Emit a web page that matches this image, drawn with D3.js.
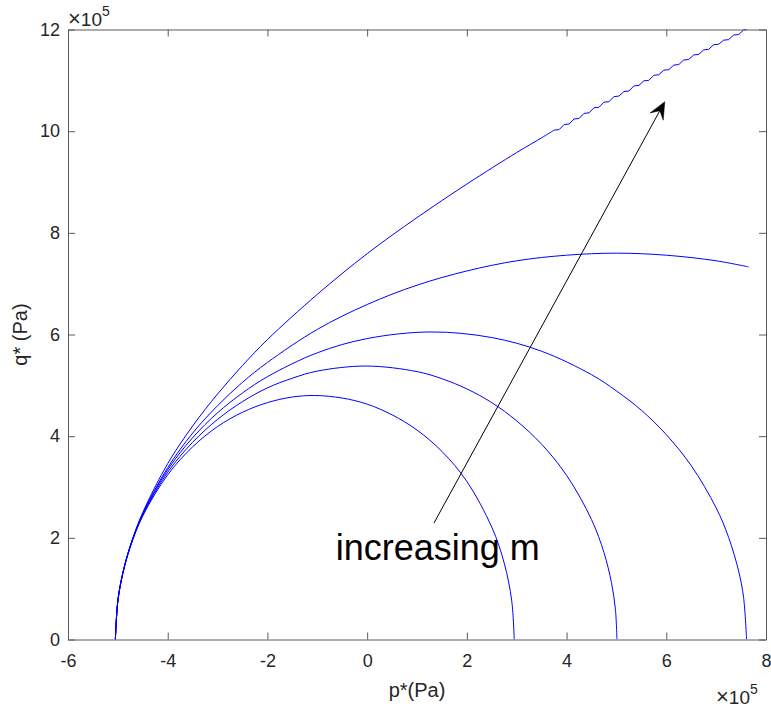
<!DOCTYPE html>
<html>
<head>
<meta charset="utf-8">
<script src="https://cdn.jsdelivr.net/npm/d3@7"></script>
<style>
  body { margin: 0; background: #fff; }
  svg { font-family: "Liberation Sans", Arial, Helvetica, sans-serif; }
</style>
</head>
<body>
<svg width="771" height="710"></svg>
<script>
// values in units of 1e5 Pa
var xTicks = [-6, -4, -2, 0, 2, 4, 6, 8];
var yTicks = [0, 2, 4, 6, 8, 10, 12];

var curve1 = [[-5.05, 0], [-5.0, 0.76], [-4.9, 1.3], [-4.75, 1.82], [-4.5, 2.43], [-4, 3.24],
  [-3.5, 3.79], [-3, 4.19], [-2.5, 4.47], [-2, 4.66], [-1.5, 4.77], [-1.05, 4.8], [-0.5, 4.75],
  [0, 4.63], [0.5, 4.42], [1, 4.12], [1.5, 3.7], [2, 3.11], [2.5, 2.21], [2.75, 1.5], [2.9, 0.76], [2.95, 0]];

var curve2 = [[-5.05, 0], [-5.0, 0.76], [-4.9, 1.3], [-4.75, 1.83], [-4.5, 2.45], [-4, 3.29],
  [-3.5, 3.88], [-3, 4.33], [-2.5, 4.68], [-2, 4.95], [-1.5, 5.14], [-1, 5.28], [-0.02, 5.38],
  [1, 5.27], [1.5, 5.13], [2, 4.93], [2.5, 4.66], [3, 4.3], [3.5, 3.84], [4, 3.23], [4.5, 2.36],
  [4.75, 1.71], [4.9, 1.12], [4.98, 0.59], [5.01, 0]];

var curve3 = [[-5.05, 0], [-5.0, 0.76], [-4.9, 1.31], [-4.75, 1.84], [-4.5, 2.47], [-4, 3.34],
  [-3.5, 3.97], [-3, 4.46], [-2.5, 4.85], [-2, 5.17], [-1, 5.64], [0, 5.92], [1.28, 6.05],
  [2.5, 5.94], [3.5, 5.67], [4.5, 5.21], [5, 4.89], [5.5, 4.51], [6, 4.03], [6.5, 3.42],
  [7, 2.59], [7.25, 2.01], [7.45, 1.35], [7.55, 0.83], [7.61, 0]];

var curve4 = [[-5.05, 0], [-5.0, 0.76], [-4.9, 1.31], [-4.75, 1.84], [-4.5, 2.48], [-4, 3.38],
  [-3.5, 4.06], [-3, 4.6], [-2.5, 5.06], [-2, 5.45], [-1, 6.1], [0, 6.59], [1, 6.97], [2, 7.25],
  [3, 7.45], [4, 7.56], [5, 7.6], [6, 7.56], [7, 7.45], [7.65, 7.33]];

var curve5 = [[-5.05, 0], [-5.0, 0.76], [-4.9, 1.31], [-4.75, 1.85], [-4.5, 2.5], [-4, 3.46],
  [-3.5, 4.2], [-3, 4.83], [-2.5, 5.39], [-2, 5.9], [-1, 6.79], [0, 7.59], [1, 8.3], [2, 8.96],
  [3, 9.58], [3.5, 9.87], [3.75, 10.02]];

// the jagged end of the top curve
var curve5Steps = [[3.75, 10.02], [3.85, 10.03], [3.95, 10.13], [4.05, 10.14], [4.15, 10.24],
  [4.25, 10.25], [4.35, 10.35], [4.45, 10.36], [4.55, 10.46], [4.65, 10.47], [4.75, 10.57],
  [4.85, 10.58], [4.95, 10.68], [5.05, 10.69], [5.15, 10.78], [5.25, 10.79], [5.35, 10.89],
  [5.45, 10.9], [5.55, 10.99], [5.65, 11.0], [5.75, 11.1], [5.85, 11.11], [5.95, 11.2],
  [6.05, 11.21], [6.15, 11.3], [6.25, 11.31], [6.35, 11.4], [6.45, 11.41], [6.55, 11.5],
  [6.65, 11.51], [6.75, 11.6], [6.85, 11.61], [6.95, 11.7], [7.05, 11.71], [7.15, 11.79],
  [7.25, 11.8], [7.35, 11.89], [7.45, 11.9], [7.55, 11.99], [7.61, 12.0]];

var arrowFrom = [1.34, 2.29];
var arrowTo = [5.97, 10.58];
var noteText = "increasing m";
var notePos = [-0.63, 1.57];

var svg = d3.select("svg");
var plotLeft = 68, plotRight = 766, plotTop = 29.5, plotBottom = 639.5;

var x = d3.scaleLinear().domain([-6, 8]).range([plotLeft, plotRight]);
var y = d3.scaleLinear().domain([0, 12]).range([plotBottom, plotTop]);

var axisColor = "#5a5a5a";
var textColor = "#262626";

svg.append("defs").append("clipPath").attr("id", "plot")
  .append("rect")
  .attr("x", plotLeft).attr("y", plotTop - 1)
  .attr("width", plotRight - plotLeft).attr("height", plotBottom - plotTop + 1);

// curves
var smooth = d3.line()
  .x(function (d) { return x(d[0]); })
  .y(function (d) { return y(d[1]); })
  .curve(d3.curveCatmullRom.alpha(0.5));

var straight = d3.line()
  .x(function (d) { return x(d[0]); })
  .y(function (d) { return y(d[1]); });

var lines = svg.append("g").attr("clip-path", "url(#plot)");

lines.selectAll("path.curve")
  .data([curve1, curve2, curve3, curve4, curve5])
  .enter()
  .append("path")
  .attr("class", "curve")
  .attr("d", smooth)
  .attr("fill", "none")
  .attr("stroke", "#0000ff")
  .attr("stroke-width", 1);

lines.append("path")
  .attr("d", straight(curve5Steps))
  .attr("fill", "none")
  .attr("stroke", "#0000ff")
  .attr("stroke-width", 1);

// axes, ticks inside on all four sides
function style(g) {
  g.attr("font-family", null);
  g.selectAll(".domain").attr("stroke", axisColor);
  g.selectAll(".tick line").attr("stroke", axisColor);
  g.selectAll(".tick text")
    .attr("fill", textColor)
    .style("font-size", "18px");
}

function plain(d) { return String(d); }

svg.append("g")
  .attr("transform", "translate(0," + plotBottom + ")")
  .call(d3.axisBottom(x).tickValues(xTicks).tickFormat(plain).tickSize(-7).tickSizeOuter(0).tickPadding(15))
  .call(style);

svg.append("g")
  .attr("transform", "translate(0," + plotTop + ")")
  .call(d3.axisTop(x).tickValues(xTicks).tickSize(-7).tickSizeOuter(0).tickFormat(""))
  .call(style);

svg.append("g")
  .attr("transform", "translate(" + plotLeft + ",0)")
  .call(d3.axisLeft(y).tickValues(yTicks).tickFormat(plain).tickSize(-7).tickSizeOuter(0).tickPadding(8))
  .call(style);

svg.append("g")
  .attr("transform", "translate(" + plotRight + ",0)")
  .call(d3.axisRight(y).tickValues(yTicks).tickSize(-7).tickSizeOuter(0).tickFormat(""))
  .call(style);

// axis labels
svg.append("text")
  .attr("x", (plotLeft + plotRight) / 2)
  .attr("y", 697)
  .attr("text-anchor", "middle")
  .attr("fill", textColor)
  .style("font-size", "20px")
  .text("p*(Pa)");

svg.append("text")
  .attr("transform", "translate(27," + (plotTop + plotBottom) / 2 + ") rotate(-90)")
  .attr("text-anchor", "middle")
  .attr("fill", textColor)
  .style("font-size", "20px")
  .text("q* (Pa)");

// exponent markers
function exponent(px, py) {
  var t = svg.append("text")
    .attr("x", px)
    .attr("y", py)
    .attr("fill", textColor)
    .style("font-size", "19px");
  t.append("tspan").style("font-size", "22px").style("font-weight", 300).text("\u00d7");
  t.append("tspan").text("10");
  t.append("tspan").attr("dy", -10).style("font-size", "14px").text("5");
}
exponent(68, 26);
exponent(716, 704);

// annotation arrow
var ax0 = x(arrowFrom[0]), ay0 = y(arrowFrom[1]);
var ax1 = x(arrowTo[0]), ay1 = y(arrowTo[1]);
var ang = Math.atan2(ay1 - ay0, ax1 - ax0);
var headLen = 17, headW = 7.5;

svg.append("line")
  .attr("x1", ax0).attr("y1", ay0)
  .attr("x2", ax1 - Math.cos(ang) * 8).attr("y2", ay1 - Math.sin(ang) * 8)
  .attr("stroke", "#000")
  .attr("stroke-width", 1);

function pt(along, side) {
  return [ax1 + Math.cos(ang) * along - Math.sin(ang) * side,
          ay1 + Math.sin(ang) * along + Math.cos(ang) * side];
}
svg.append("path")
  .attr("d", d3.line()([pt(0, 0), pt(-headLen, headW), pt(-headLen * 0.6, 0), pt(-headLen, -headW)]) + "Z")
  .attr("fill", "#000")
  .attr("stroke", "#000")
  .attr("stroke-width", 0.5);

svg.append("text")
  .attr("x", x(notePos[0]))
  .attr("y", y(notePos[1]))
  .attr("fill", "#000")
  .style("font-size", "36px")
  .text(noteText);
</script>
</body>
</html>
